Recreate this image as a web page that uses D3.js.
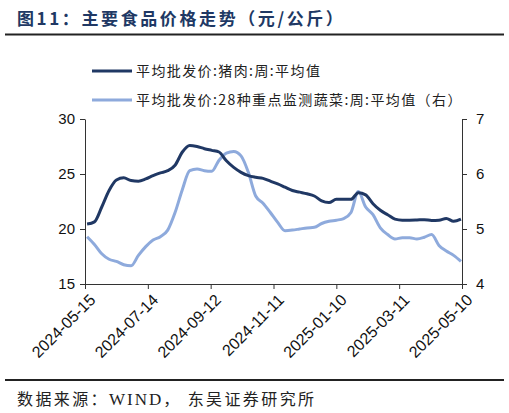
<!DOCTYPE html>
<html>
<head>
<meta charset="utf-8">
<script src="https://cdn.jsdelivr.net/npm/d3@7"></script>
<style>
  body { margin: 0; background: #fff; }
  svg { display: block; }
</style>
</head>
<body>
<svg id="chart" width="509" height="413"></svg>
<script>
// weekly dates (Fridays)
var weekDates = [
  "2024-05-17", "2024-05-24", "2024-05-31", "2024-06-07", "2024-06-14", "2024-06-21", "2024-06-28",
  "2024-07-05", "2024-07-12", "2024-07-19", "2024-07-26", "2024-08-02", "2024-08-09", "2024-08-16",
  "2024-08-23", "2024-08-30", "2024-09-06", "2024-09-13", "2024-09-20", "2024-09-27", "2024-10-04",
  "2024-10-11", "2024-10-18", "2024-10-25", "2024-11-01", "2024-11-08", "2024-11-15", "2024-11-22",
  "2024-11-29", "2024-12-06", "2024-12-13", "2024-12-20", "2024-12-27", "2025-01-03", "2025-01-10",
  "2025-01-17", "2025-01-24", "2025-01-31", "2025-02-07", "2025-02-14", "2025-02-21", "2025-02-28",
  "2025-03-07", "2025-03-14", "2025-03-21", "2025-03-28", "2025-04-04", "2025-04-11", "2025-04-18",
  "2025-04-25", "2025-05-02", "2025-05-09"
];
// 平均批发价:猪肉 (left axis)
var porkPrice = [
  20.45, 20.65, 22.0, 23.5, 24.45, 24.65, 24.4, 24.35, 24.55, 24.85,
  25.1, 25.3, 25.8, 27.0, 27.6, 27.5, 27.3, 27.15, 27.0, 26.2,
  25.6, 25.15, 24.85, 24.7, 24.6, 24.35, 24.1, 23.8, 23.5, 23.35,
  23.2, 23.0, 22.55, 22.4, 22.7, 22.7, 22.7, 23.3, 23.1, 22.3,
  21.7, 21.3, 20.9, 20.8, 20.8, 20.82, 20.85, 20.78, 20.8, 20.95,
  20.7, 20.9
];
// 平均批发价:28种重点监测蔬菜 (right axis)
var vegPrice = [
  4.86, 4.72, 4.55, 4.45, 4.41, 4.35, 4.33, 4.52, 4.68, 4.8,
  4.86, 4.98, 5.3, 5.72, 6.06, 6.09, 6.06, 6.05, 6.25, 6.38,
  6.41, 6.33, 6.03, 5.6, 5.47, 5.3, 5.12, 4.97, 4.98, 5.0,
  5.02, 5.03, 5.1, 5.14, 5.16, 5.19, 5.3, 5.68, 5.4, 5.26,
  5.02, 4.9, 4.82, 4.84, 4.84, 4.82, 4.85, 4.9, 4.7, 4.6,
  4.52, 4.41
];
var xTickLabels = ["2024-05-15", "2024-07-14", "2024-09-12", "2024-11-11", "2025-01-10", "2025-03-11", "2025-05-10"];
var leftTicks = [15, 20, 25, 30];
var rightTicks = [4, 5, 6, 7];

var cjk = "'Noto Sans CJK SC', 'Noto Sans', sans-serif";
var latin = "'Liberation Sans', Arial, sans-serif";
var porkColor = "#203864";
var vegColor = "#8eaadc";

var svg = d3.select("#chart");
var parse = d3.timeParse("%Y-%m-%d");

margin = { top: 119, bottom: 129, left: 85, right: 47 };
var width = 509 - margin.left - margin.right;
var height = 413 - margin.top - margin.bottom;

// title
svg.append("text").attr("x", 17).attr("y", 25)
  .style("font-family", cjk).style("font-size", "17px").style("font-weight", "bold")
  .style("letter-spacing", "2.6px").attr("fill", porkColor)
  .text("图11：主要食品价格走势（元/公斤）");
svg.append("line").attr("x1", 5).attr("x2", 504).attr("y1", 34.5).attr("y2", 34.5)
  .attr("stroke", "#222").attr("stroke-width", 2);

// legend
var legend = [
  { name: "平均批发价:猪肉:周:平均值", color: porkColor, y: 71 },
  { name: "平均批发价:28种重点监测蔬菜:周:平均值（右）", color: vegColor, y: 100 }
];
legend.forEach(function(l) {
  svg.append("line").attr("x1", 92).attr("x2", 132).attr("y1", l.y).attr("y2", l.y)
    .attr("stroke", l.color).attr("stroke-width", 3);
  svg.append("text").attr("x", 136).attr("y", l.y + 5)
    .style("font-family", cjk).style("font-size", "14px").style("letter-spacing", "1.4px")
    .attr("fill", "#222").text(l.name);
});

var g = svg.append("g").attr("transform", "translate(" + margin.left + "," + margin.top + ")");

var scaleX = d3.scaleTime().domain([parse(xTickLabels[0]), parse(xTickLabels[xTickLabels.length - 1])]).range([0, width]);
var scaleL = d3.scaleLinear().domain([15, 30]).range([height, 0]);
var scaleR = d3.scaleLinear().domain([4, 7]).range([height, 0]);

var axisStyle = function(sel) {
  sel.selectAll("path").attr("stroke", "#333").attr("stroke-width", 1);
  sel.selectAll("line").attr("stroke", "#333").attr("stroke-width", 1);
  sel.selectAll("text").style("font-family", latin).attr("fill", "#111");
};

var left = g.append("g").call(d3.axisLeft(scaleL).tickValues(leftTicks).tickSize(5).tickSizeOuter(0).tickPadding(5));
axisStyle(left);
left.selectAll("text").style("font-size", "15px");

var right = g.append("g").attr("transform", "translate(" + width + ",0)")
  .call(d3.axisRight(scaleR).tickValues(rightTicks).tickFormat(d3.format("d")).tickSize(5).tickSizeOuter(0).tickPadding(9));
axisStyle(right);
right.selectAll("text").style("font-size", "15px");

var bottom = g.append("g").attr("transform", "translate(0," + height + ")")
  .call(d3.axisBottom(scaleX).tickValues(xTickLabels.map(parse)).tickFormat(d3.timeFormat("%Y-%m-%d")).tickSize(5).tickSizeOuter(0));
axisStyle(bottom);
bottom.selectAll("text").style("font-size", "16px").attr("text-anchor", "end")
  .attr("x", 0).attr("y", 0).attr("dy", "0.7em")
  .attr("transform", "translate(3,9) rotate(-45)");

var porkLine = d3.line()
  .x(function(d, i) { return scaleX(parse(weekDates[i])); })
  .y(function(d) { return scaleL(d); })
  .curve(d3.curveMonotoneX);
var vegLine = d3.line()
  .x(function(d, i) { return scaleX(parse(weekDates[i])); })
  .y(function(d) { return scaleR(d); })
  .curve(d3.curveMonotoneX);

g.append("path").attr("d", vegLine(vegPrice)).attr("fill", "none").attr("stroke", vegColor).attr("stroke-width", 3);
g.append("path").attr("d", porkLine(porkPrice)).attr("fill", "none").attr("stroke", porkColor).attr("stroke-width", 3);

// source
svg.append("line").attr("x1", 5).attr("x2", 504).attr("y1", 380).attr("y2", 380)
  .attr("stroke", "#222").attr("stroke-width", 2);
var src = svg.append("text").attr("x", 17).attr("y", 405)
  .style("font-family", cjk).style("font-size", "16px").style("letter-spacing", "2.4px")
  .attr("fill", "#222");
src.append("tspan").text("数据来源：");
src.append("tspan").style("font-family", "'Liberation Serif', serif").style("font-size", "17px")
  .style("letter-spacing", "2px").text("WIND");
src.append("tspan").text("， 东吴证券研究所");
</script>
</body>
</html>
